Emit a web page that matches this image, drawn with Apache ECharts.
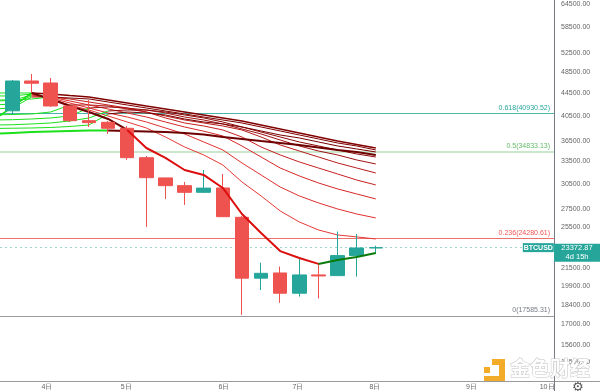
<!DOCTYPE html>
<html><head><meta charset="utf-8">
<style>html,body{margin:0;padding:0;background:#fff}#c{width:600px;height:391px}</style>
<script src="https://cdn.jsdelivr.net/npm/echarts@6/dist/echarts.min.js"></script>
</head><body><div id="c"></div>
<script>
// [open, close, low, high] per 12h candle
const candles = [
 [41330,46800,40620,46995],[46800,46360,44520,48185],[46410,42170,42000,47390],[42170,39670,39450,42200],
 [39670,39340,38640,43240],[39400,38430,37530,39620],[38430,34000,33680,38800],[34000,31280,25480,34240],
 [31250,30260,28630,31250],[30260,29430,27920,30730],[29430,29950,29350,32300],[29970,26590,26560,31770],
 [26520,20580,17660,26670],[20580,21000,19590,21950],[21030,19330,18570,21600],[19330,20860,19060,22370],
 [20860,20770,18910,21930],[20800,22610,20770,24990],[22610,23340,20710,24740],[23340,23372.87,22860,23560]
];
// moving averages; first value is the bar before the first visible candle
const ema1 = [39780,41996,44520,43420,42170,41130,39950,38160,35400,33960,32300,31640,29970,26890,24850,23040,22390,21840,22200,22480,22860];
const ema2 = [43970,43970,44330,43420,42350,41470,40450,39450,38480,37060,35550,34390,32980,30730,28990,27230,26010,25160,24640,24440,24230];
const ema3 = [43060,43150,44150,43600,42700,41820,40960,40280,39450,38480,37530,36300,35110,33260,31640,30090,28990,28160,27460,26890,26450];
const ema4 = [42350,42520,43970,43780,43060,42350,41650,40960,40280,39450,38640,37970,37220,35700,34100,32570,31510,30600,29850,29230,28630];
const ema5 = [41650,41820,43780,43780,43420,42880,42350,41820,41130,40120,39290,38800,38160,37060,35550,34390,33400,32570,31770,30980,30350];
const ema6 = [40620,40700,40790,41130,42350,42350,42170,41650,41130,40450,39780,39290,38800,38160,37060,35850,34960,34100,33260,32570,31900];
const ema7 = [39780,39830,39950,40120,40450,41820,42000,41820,41470,40960,40280,39780,39130,38320,37530,36600,35700,34960,34390,33680,33120];
const ema8 = [38960,39000,39130,39290,39620,40120,41300,41470,41470,41130,40620,40120,39450,38640,37840,37060,36300,35700,35110,34530,34100];
const ema9 = [44520,44520,44520,44330,44050,43780,43240,42700,42170,41650,41130,40620,40120,39620,38960,38320,37690,37060,36450,35930,35400];
const ema10 = [43240,43240,43420,43780,43600,43420,42880,42350,41820,41300,40790,40280,39780,39290,38640,38000,37370,36760,36150,35700,35110];
const ema11 = [38400,38440,38480,38560,38720,38960,40790,41130,40960,40620,39950,39450,39130,38640,38000,37370,36910,36300,35700,35260,34820];
const ema12 = [37530,37690,37840,37920,38000,38080,38080,38000,37920,37840,37690,37450,37060,36760,36450,36150,35850,35480,35110,34820,34390];
const emaLines = [ema2,ema3,ema4,ema5,ema6,ema7,ema8,ema9,ema10,ema11,ema12];
// bar index up to which each average is still in its rising (green) phase
const greenUntil = [1,1,1,1,3,4,5,1,2,5,5];
const emaColors = ['#e53935','#e03030','#d62828','#c62020','#b71c1c','#a01212','#8e0a0a','#800000','#7f0000','#7a0000','#6d0000'];
const emaWidths = [1,1,1,1,1,1,1,1.6,1,1,2];
const fibValues = [40930.52,34833.13,24280.61,17585.31];
const fibNames = ['0.618','0.5','0.236','0'];
const fibColors = ['#26a69a','#66bb6a','#ef5350','#787b86'];
const fibLines = ['#4db6ac','#b9dfbb','#ef6f6c','#9a9a9a'];
const lastPrice = 23372.87;
const priceTicks = [64500,58500,52500,48500,44500,40500,36500,33500,30500,27500,25500,21500,19900,18400,17000,15600,14500];
const dayTicks = [1.8,5.94,11.06,14.93,18.96,24,27.96];
const dayNames = ['4日','5日','6日','7日','8日','9日','10日'];

const toPts = (arr, from, to) => arr.map((v,k)=>[k-1,v]).filter(p=>p[0]>=from && p[0]<=to);
const line = (data,color,width,z) => ({type:'line',data,symbol:'none',silent:true,z,lineStyle:{color,width},itemStyle:{color},animation:false});
const series = [];
emaLines.forEach((arr,k)=>{
  const g = greenUntil[k];
  series.push(line(toPts(arr,-1,g),'#1be01b',k===10?2:1,1));
  series.push(line(toPts(arr,g,19),emaColors[k],emaWidths[k],k===10?2:1));
});
series.push(line(toPts(ema1,-1,1),'#12dc12',1.5,1));
series.push(line(toPts(ema1,1,6),'#700000',2,2));
series.push(line(toPts(ema1,6,16),'#dc0f0f',2,6));
series.push(line(toPts(ema1,16,19),'#0a7a0a',2,6));
series.push({
  type:'candlestick',z:4,barWidth:14,animation:false,silent:true,
  data:candles.map((c,i)=>[i,c[0],c[1],c[2],c[3]]),
  encode:{x:0,y:[1,2,3,4]},
  itemStyle:{color:'#26a69a',color0:'#ef5350',borderColor:'#26a69a',borderColor0:'#ef5350',borderWidth:1},
  markLine:{silent:true,symbol:'none',animation:false,z:0,precision:2,
    data:fibValues.map((v,i)=>({yAxis:v,lineStyle:{color:fibLines[i],width:i===1?1.5:1,type:'solid'},
      label:{show:true,position:'insideEndTop',distance:[4,2],color:fibColors[i],fontSize:7,fontFamily:'Liberation Sans',
        formatter:fibNames[i]+'('+v.toFixed(2)+')'}})).concat([
      [{coord:[-0.654,lastPrice],lineStyle:{color:'#9fd6d0',width:1,type:[2,3]},label:{show:false}},{coord:[26.7,lastPrice]}]
    ])},
  markPoint:{silent:true,animation:false,z:8,data:[
    {coord:[27.5,lastPrice],symbol:'rect',symbolSize:[31,9],itemStyle:{color:'#26a69a'},
     label:{show:true,position:'inside',formatter:'BTCUSD',color:'#fff',fontSize:7,fontWeight:'bold',fontFamily:'Liberation Sans'}},
    {coord:[28.32,lastPrice],symbol:'rect',symbolSize:[46,18],symbolOffset:[23,5],itemStyle:{color:'#26a69a'},
     label:{show:true,position:'inside',formatter:lastPrice.toFixed(2)+'\n4d 15h',color:'#fff',fontSize:7.5,lineHeight:9,fontFamily:'Liberation Sans'}}
  ]}
});
const wmStyle = {text:'金色财经',font:'bold 20px "Noto Sans CJK SC"',fill:'#fff',stroke:'#c4c4c4',lineWidth:1};
const chart = echarts.init(document.getElementById('c'),null,{renderer:'canvas'});
chart.setOption({
  animation:false,backgroundColor:'#fff',
  grid:{left:0,right:46,top:0,bottom:10,containLabel:false,outerBoundsMode:'none'},
  xAxis:{type:'value',min:-0.654,max:28.32,splitLine:{show:false},
    axisLine:{show:false},axisTick:{show:false},
    axisLabel:{customValues:dayTicks,margin:3,fontSize:7,color:'#666',fontFamily:'Liberation Sans',
      formatter:v=>{const k=dayTicks.indexOf(v);return k<0?'':dayNames[k];}}},
  yAxis:{type:'log',logBase:10,position:'right',min:13408,max:65585,splitLine:{show:false},minorTick:{show:false},
    axisLine:{show:true,onZero:false,lineStyle:{color:'#787b86',width:1}},axisTick:{show:false,customValues:priceTicks},
    axisLabel:{customValues:priceTicks,margin:7,fontSize:7,color:'#666',fontFamily:'Liberation Sans',
      formatter:v=>Number(v).toFixed(2)}},
  series,
  graphic:[
    {type:'line',z:20,shape:{x1:0,y1:381.5,x2:600,y2:381.5},style:{stroke:'#9a9a9a',lineWidth:1}},
    {type:'line',z:20,shape:{x1:554.5,y1:381,x2:554.5,y2:391},style:{stroke:'#787b86',lineWidth:1}},
    {type:'text',z:20,x:572,y:381,style:{text:'⚙',font:'13px "DejaVu Sans"',fill:'#555'}},
    {type:'rect',z:15,shape:{x:484,y:367,width:6,height:6},style:{fill:'#f2ac2a'}},
    {type:'polygon',z:15,shape:{points:[[492,359],[505,359],[505,382],[484,382],[484,376],[499,376],[499,365],[492,365]]},style:{fill:'#f2ac2a'}},
    {type:'text',z:15,x:510,y:358,style:wmStyle}
  ]
});
</script></body></html>
